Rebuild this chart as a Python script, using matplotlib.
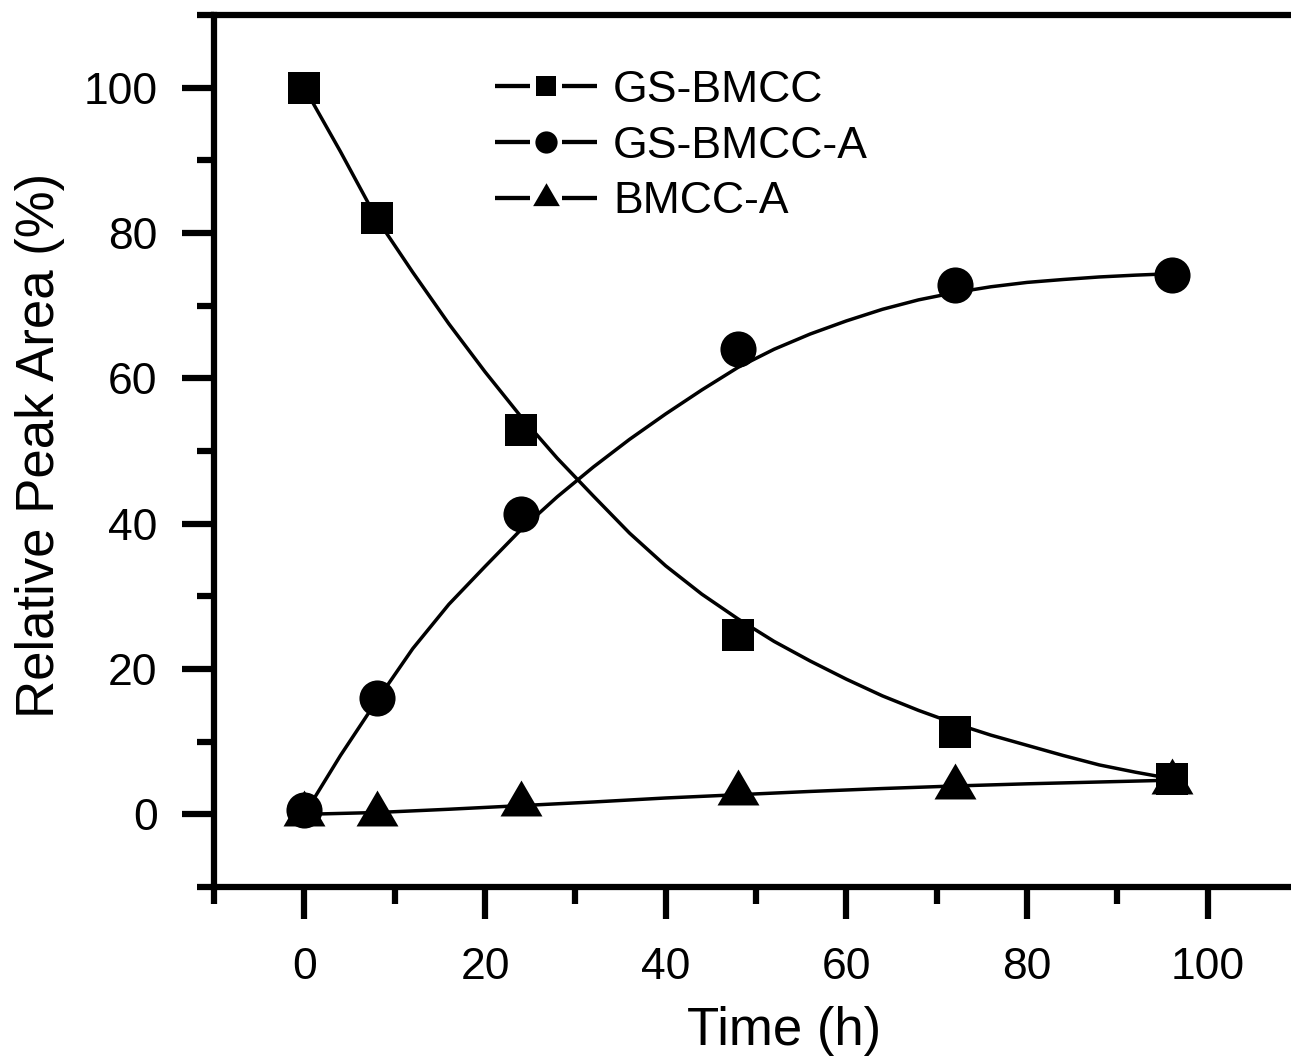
import matplotlib
matplotlib.use('Agg')
import matplotlib.pyplot as plt
from matplotlib.path import Path
from matplotlib.lines import Line2D
from matplotlib.legend_handler import HandlerBase
from matplotlib.ticker import MultipleLocator, FixedLocator

# ---------------- data ----------------
time_h = [0, 8, 24, 48, 72, 96]
gs_bmcc = [100.0, 82.0, 52.9, 24.7, 11.3, 4.9]
gs_bmcc_a = [0.6, 16.0, 41.3, 64.0, 72.9, 74.2]
bmcc_a = [0.0, 0.05, 1.4, 2.9, 3.7, 4.5]

# fitted curves
fit_t = [0, 4, 8, 12, 16, 20, 24, 28, 32, 36, 40, 44, 48,
         52, 56, 60, 64, 68, 72, 76, 80, 84, 88, 92, 96]
fit_gs_bmcc = [100, 91.2, 82.0, 74.6, 67.5, 60.9, 54.7, 49.0, 43.8, 38.7, 34.2, 30.3, 26.9,
               23.8, 21.1, 18.6, 16.3, 14.3, 12.5, 10.9, 9.5, 8.1, 6.8, 5.8, 4.9]
fit_gs_bmcc_a = [0, 8.1, 15.6, 22.8, 28.9, 34.1, 39.2, 43.7, 47.8, 51.6, 55.1, 58.4, 61.5,
                 64.0, 66.1, 67.9, 69.5, 70.8, 71.8, 72.6, 73.2, 73.6, 73.95, 74.2, 74.4]
fit_t_b = [0, 8, 16, 24, 32, 40, 48, 56, 64, 72, 80, 88, 96]
fit_bmcc_a = [0, 0.25, 0.7, 1.2, 1.7, 2.25, 2.7, 3.15, 3.55, 3.9, 4.2, 4.45, 4.7]

labels = ['GS-BMCC', 'GS-BMCC-A', 'BMCC-A']
x_ticks = [0, 20, 40, 60, 80, 100]
y_ticks = [0, 20, 40, 60, 80, 100]

# ---------------- style ----------------
plt.rcParams['font.family'] = ['Liberation Sans', 'DejaVu Sans']
DPI = 100
W, H = 1291, 1061
fig = plt.figure(figsize=(W / DPI, H / DPI), dpi=DPI)

ax_left_px, ax_right_px = 214, 1298
ax_top_px, ax_bot_px = 15, 887
ax = fig.add_axes([ax_left_px / W, 1 - ax_bot_px / H,
                   (ax_right_px - ax_left_px) / W, (ax_bot_px - ax_top_px) / H])
ax.set_xlim(-10, 110)
ax.set_ylim(-10, 110)

# centroid-centred triangle (Origin style)
tri = Path([(0, 24), (-21, -12), (21, -12), (0, 24)],
           [Path.MOVETO, Path.LINETO, Path.LINETO, Path.CLOSEPOLY])

LW = 2.5
ax.plot(fit_t, fit_gs_bmcc, color='black', lw=LW, zorder=2, solid_joinstyle='round')
ax.plot(fit_t, fit_gs_bmcc_a, color='black', lw=LW, zorder=2, solid_joinstyle='round')
ax.plot(fit_t_b, fit_bmcc_a, color='black', lw=LW, zorder=2, solid_joinstyle='round')

ax.plot(time_h, bmcc_a, ls='none', marker=tri, ms=34.5, color='black', mew=0, zorder=3)
ax.plot(time_h, gs_bmcc_a, ls='none', marker='o', ms=26, color='black', mew=0, zorder=3)
ax.plot(time_h, gs_bmcc, ls='none', marker='s', ms=22.5, color='black', mew=0, zorder=4)

# axes styling
for side in ['left', 'bottom', 'top']:
    ax.spines[side].set_linewidth(4.5)
ax.spines['right'].set_visible(False)
ax.xaxis.set_major_locator(FixedLocator(x_ticks))
ax.yaxis.set_major_locator(FixedLocator(y_ticks))
ax.xaxis.set_minor_locator(MultipleLocator(10))
ax.yaxis.set_minor_locator(MultipleLocator(10))
ax.tick_params(which='major', direction='out', length=23, width=4.5, labelsize=32)
ax.tick_params(which='minor', direction='out', length=12, width=4.5)
ax.tick_params(axis='x', which='major', pad=20)
ax.tick_params(axis='y', which='major', pad=17.5)

ax.set_xlabel('Time (h)', fontsize=38)
ax.set_ylabel('Relative Peak Area (%)', fontsize=38)
ax.xaxis.set_label_coords((784 - ax_left_px) / (ax_right_px - ax_left_px), -(1031 - ax_bot_px) / (ax_bot_px - ax_top_px), transform=ax.transAxes)
ax.yaxis.set_label_coords(-(ax_left_px - 40) / (ax_right_px - ax_left_px), (ax_bot_px - 445) / (ax_bot_px - ax_top_px), transform=ax.transAxes)
ax.xaxis.label.set_va('center')
ax.yaxis.label.set_va('center')


# legend handler: line - gap - marker - gap - line
class GapHandler(HandlerBase):
    def create_artists(self, legend, orig_handle, xdescent, ydescent,
                       width, height, fontsize, trans):
        y = height / 2 - ydescent
        x0 = -xdescent
        l1 = Line2D([x0, x0 + 0.34 * width], [y, y], color='black', lw=LW + 0.6,
                    solid_capstyle='butt')
        l2 = Line2D([x0 + 0.66 * width, x0 + width], [y, y], color='black', lw=LW + 0.6,
                    solid_capstyle='butt')
        m = Line2D([x0 + 0.5 * width], [y], ls='none', marker=orig_handle.get_marker(),
                   ms=orig_handle.get_markersize(), color='black', mew=0)
        for a in (l1, l2, m):
            a.set_transform(trans)
        return [l1, l2, m]


h1 = Line2D([], [], marker='s', ms=15)
h2 = Line2D([], [], marker='o', ms=16)
h3 = Line2D([], [], marker=tri, ms=22)
leg = ax.legend([h1, h2, h3], labels, loc='upper left',
                bbox_to_anchor=(495 / W, 1 - 70 / H), bbox_transform=fig.transFigure,
                frameon=False, fontsize=32, borderpad=0, borderaxespad=0,
                handlelength=2.3, handletextpad=0.36, labelspacing=0.33,
                handler_map={Line2D: GapHandler()})

fig.savefig('out.png', dpi=DPI)
